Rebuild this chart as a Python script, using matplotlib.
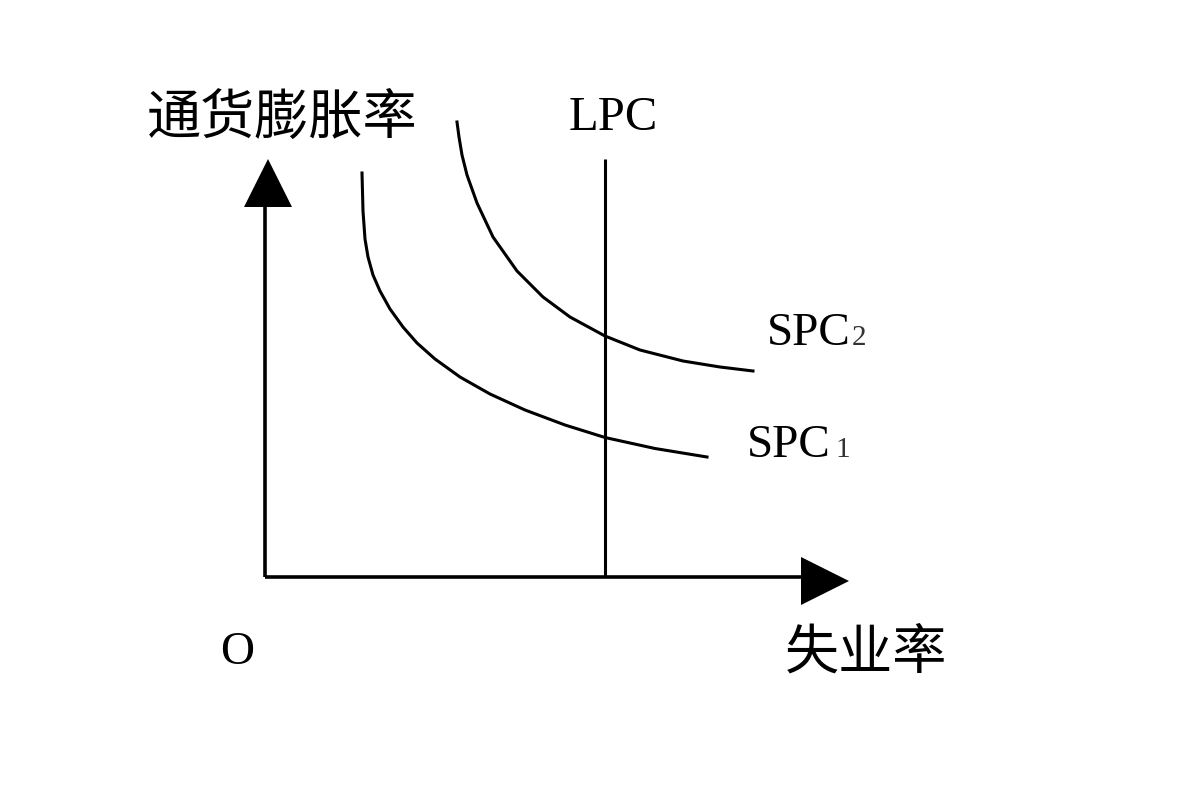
import numpy as np
import matplotlib
matplotlib.use('Agg')
import matplotlib.pyplot as plt

plt.rcParams['font.family'] = ['Liberation Serif', 'Noto Sans CJK SC', 'DejaVu Sans']

# diagram units, origin at the axes corner (unemployment, inflation)
spc1_x = [97, 98, 100, 103, 108, 115, 125, 138, 152, 170, 195, 225, 260, 300, 340, 390, 442]
spc1_y = [404, 366, 338, 320, 302, 286, 268, 250, 234, 218, 200, 183, 167, 152, 139.5, 128.5, 120]
spc2_x = [192, 194, 197, 202, 212, 228, 252, 278, 305, 340, 375, 418, 455, 488]
spc2_y = [455, 440, 422, 402, 374, 340, 306, 280, 260, 241, 227, 216, 210, 206]
lpc_x = 340
lpc_top = 418
x_axis_end = 582
y_axis_end = 416

ylabel = '通货膨胀率'
xlabel = '失业率'
origin_label = 'O'

fig = plt.figure(figsize=(11.9, 8.04), dpi=100)
ax = fig.add_axes([0, 0, 1, 1])
ax.set_xlim(-265, 925)
ax.set_ylim(-226, 578)
ax.axis('off')

lw_axis = 2.6
lw_curve = 2.2
# axes
ax.plot([0, x_axis_end - 40], [0, 0], color='black', lw=lw_axis, solid_capstyle='butt')
ax.plot([0, 0], [0, y_axis_end - 40], color='black', lw=lw_axis, solid_capstyle='butt')
ax.plot([x_axis_end - 22], [-4], marker='>', markersize=34, color='black', markeredgewidth=0)
ax.plot([3], [y_axis_end - 22], marker='^', markersize=34, color='black', markeredgewidth=0)

# curves
ax.plot([lpc_x, lpc_x], [0, lpc_top], color='black', lw=lw_curve, solid_capstyle='butt')
ax.plot(spc1_x, spc1_y, color='black', lw=lw_curve, solid_joinstyle='round')
ax.plot(spc2_x, spc2_y, color='black', lw=lw_curve, solid_joinstyle='round')

# labels
ax.text(17, 460, ylabel, fontsize=39, family=['Noto Sans CJK SC'], ha='center', va='center')
ax.text(601, -75, xlabel, fontsize=39, family=['Noto Sans CJK SC'], ha='center', va='center')
ax.text(-28, -75, origin_label, fontsize=34, ha='center', va='center')
ax.text(348, 460, 'LPC', fontsize=35, ha='center', va='center')
ax.text(502, 233, 'SPC', fontsize=34, ha='left', va='baseline')
ax.text(587, 233, '2', fontsize=21, ha='left', va='baseline', color='#333333')
ax.text(482, 121, 'SPC', fontsize=34, ha='left', va='baseline')
ax.text(570, 121, '1', fontsize=21, ha='left', va='baseline', color='#333333')

fig.savefig('out.png', dpi=100, facecolor='white')
